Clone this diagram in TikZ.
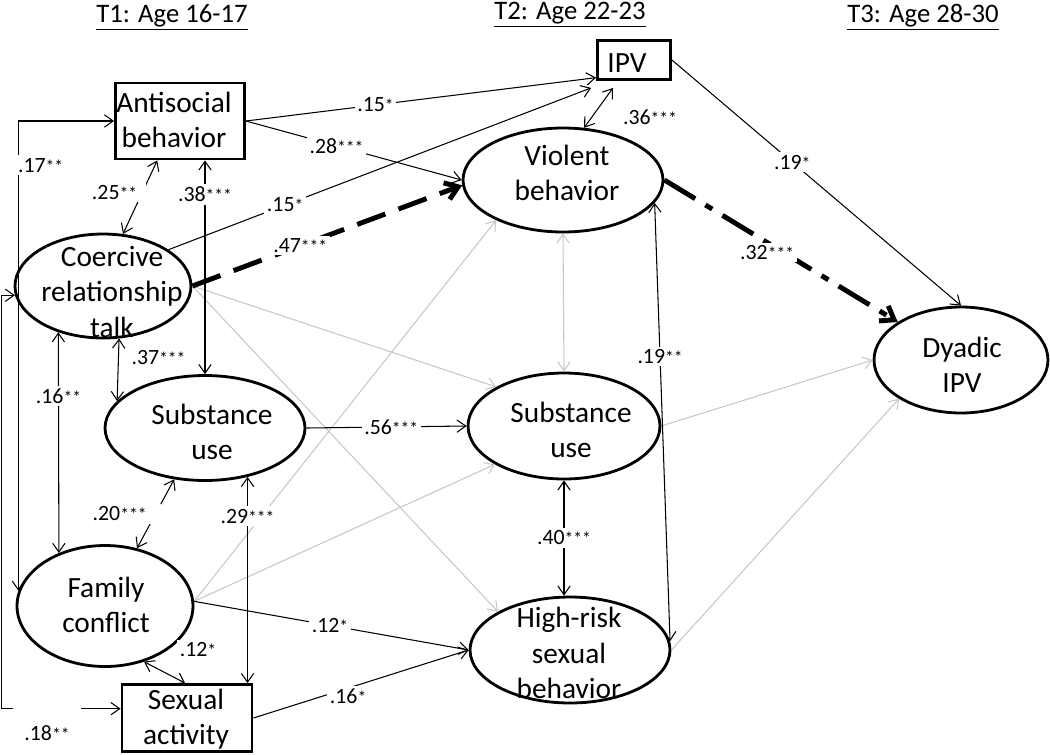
\documentclass[tikz,border=0pt]{standalone}
\usepackage{fontspec}
\setmainfont{Carlito}
\usetikzlibrary{shapes,shapes.geometric,positioning,arrows.meta}

\newcommand{\sig}[1]{{\fontsize{10}{10}\selectfont #1}}

\tikzset{
    latent/.style={draw, ellipse, line width=1.6pt, inner sep=0pt},
    manifest/.style={draw, rectangle, line width=1.6pt, inner sep=0pt},
    varname/.style={align=center, inner sep=0pt, font=\fontsize{16.7}{20.2}\selectfont},
    wave/.style={anchor=base, font=\fontsize{15.2}{18}\selectfont},
    coef/.style={fill=white, inner sep=1.5pt, font=\fontsize{12.4}{14}\selectfont},
    reg/.style={-{Straight Barb[length=5pt,width=7pt]}, line width=0.6pt},
    cov/.style={{Straight Barb[length=5pt,width=7pt]}-{Straight Barb[length=5pt,width=7pt]}, line width=0.6pt},
    ns/.style={draw=black!22},
    strong/.style={-{Straight Barb[length=7pt,width=10pt]}, line width=2.8pt},
}

\begin{document}
\begin{tikzpicture}[x=0.02cm,y=-0.02cm]
    \useasboundingbox (0,0) rectangle (1050,754);

    \node[wave] (t1) at (172,22) {\underline{T1: Age 16-17}};
    \node[wave] (t2) at (570,19) {\underline{T2: Age 22-23}};
    \node[wave] (t3) at (923,22) {\underline{T3: Age 28-30}};

    % T1
    \node[manifest, minimum width=2.58cm, minimum height=1.52cm] (anti) at (180,121) {};
    \node[latent, minimum width=3.52cm, minimum height=2.08cm] (crt) at (103,286) {};
    \node[latent, minimum width=4cm, minimum height=2.1cm] (su1) at (205,428) {};
    \node[latent, minimum width=3.52cm, minimum height=2.42cm] (fam) at (105,606) {};
    \node[manifest, minimum width=2.6cm, minimum height=1.34cm] (sex) at (187,718) {};
    % T2
    \node[manifest, minimum width=1.46cm, minimum height=0.78cm] (ipv) at (634,60) {};
    \node[latent, minimum width=4cm, minimum height=2.08cm] (vio) at (563,180) {};
    \node[latent, minimum width=3.84cm, minimum height=2.12cm] (su2) at (564,426) {};
    \node[latent, minimum width=4cm, minimum height=2.12cm] (hrs) at (570,650) {};
    % T3
    \node[latent, minimum width=3.48cm, minimum height=2.12cm] (dya) at (961,360) {};

    \node[varname] (anti-t) at (174,120) {Antisocial\\behavior};
    \node[varname] (crt-t) at (112,292) {Coercive\\relationship\\talk};
    \node[varname] (su1-t) at (212,432) {Substance\\use};
    \node[varname] (fam-t) at (106,605) {Family\\conflict};
    \node[varname] (sex-t) at (186,719) {Sexual\\activity};
    \node[varname] (ipv-t) at (627,63) {IPV};
    \node[varname] (vio-t) at (567,173) {Violent\\behavior};
    \node[varname] (su2-t) at (571,430) {Substance\\use};
    \node[varname] (hrs-t) at (569,653) {High-risk\\sexual\\behavior};
    \node[varname] (dya-t) at (962,365) {Dyadic\\IPV};

    % non-significant paths
    \draw[reg, ns] (crt.east) -- (su2.150);
    \draw[reg, ns] (crt.east) -- (hrs.152);
    \draw[reg, ns] (fam.3) -- (vio.211);
    \draw[reg, ns] (fam.3) -- (su2.209);
    \draw[reg, ns] (su2.east) -- (dya.west);
    \draw[reg, ns] (hrs.east) -- (dya.212);
    \draw[cov, ns] (vio.south) -- (su2.north);

    % T1 correlations
    \draw[cov] (anti.west) -| (fam.170) node[coef, pos=0.547, anchor=west, xshift=-2pt] (l17) {.17\sig{**}};
    \draw[cov] (crt.186) -- ++(-13,0) |- (sex.172);
    \node[coef, minimum width=1.38cm, minimum height=30pt] (l18) at (47,733) {.18\sig{**}};
    \draw[cov] (anti.240) -- (crt.69) node[coef, pos=0.43, xshift=-0.56cm, inner xsep=5pt] (l25) {.25\sig{**}};
    \draw[cov] (anti.south -| su1.north) -- (su1.north) node[coef, pos=0.16] (l38) {.38\sig{***}};
    \draw[cov] (crt.287) -- (su1.163) node[coef, pos=0.3, right=0.2cm] (l37) {.37\sig{***}};
    \draw[cov] (crt.226) -- (fam.131) node[coef, pos=0.29] (l16) {.16\sig{**}};
    \draw[cov] (su1.239) -- (fam.61) node[coef, pos=0.5, xshift=-0.72cm, inner xsep=8pt] (l20) {.20\sig{***}};
    \draw[cov] (su1.311) -- (su1.311 |- sex.north) node[coef, pos=0.19] (l29) {.29\sig{***}};
    \draw[cov] (fam.305) -- (sex.93);
    \node[coef] (l12b) at (198,650) {.12\sig{*}};

    % paths to T2 and T3
    \draw[reg] (anti.east) -- (ipv.205) node[coef, pos=0.37] (l15a) {.15\sig{*}};
    \draw[reg] (anti.east) -- (vio.west) node[coef, pos=0.42] (l28) {.28\sig{***}};
    \draw[reg] (crt.29) -- ([xshift=-0.1cm,yshift=-0.14cm]ipv.south west) node[coef, pos=0.276] (l15b) {.15\sig{*}};
    \draw[strong, dash pattern=on 0.6cm off 0.28cm] (crt.east) -- (vio.183) node[coef, pos=0.4] (l47) {.47\sig{***}};
    \draw[cov] ([xshift=-0.42cm,yshift=-0.14cm]ipv.south) -- (vio.68);
    \node[coef] (l36) at (650,117) {.36\sig{***}};
    \draw[reg] (fam.3) -- (hrs.west) node[coef, pos=0.495] (l12a) {.12\sig{*}};
    \draw[reg] (sex.east) -- (hrs.west) node[coef, pos=0.44, yshift=-0.16cm] (l16b) {.16\sig{*}};
    \draw[reg] (su1.east) -- (su2.west) node[coef, pos=0.53] (l56) {.56\sig{***}};
    \draw[cov] (vio.346) -- (hrs.5) node[coef, pos=0.35] (l19b) {.19\sig{**}};
    \draw[cov] (su2.south) -- (su2.south |- hrs.north) node[coef, pos=0.5] (l40) {.40\sig{***}};
    \draw[strong, dash pattern=on 0.72cm off 0.24cm on 0.16cm off 0.24cm] (vio.east) -- (dya.149) node[coef, pos=0.44, yshift=-0.2cm] (l32) {.32\sig{***}};
    \draw[reg] (ipv.east) -- (dya.north) node[coef, pos=0.416] (l19a) {.19\sig{*}};
\end{tikzpicture}
\end{document}
